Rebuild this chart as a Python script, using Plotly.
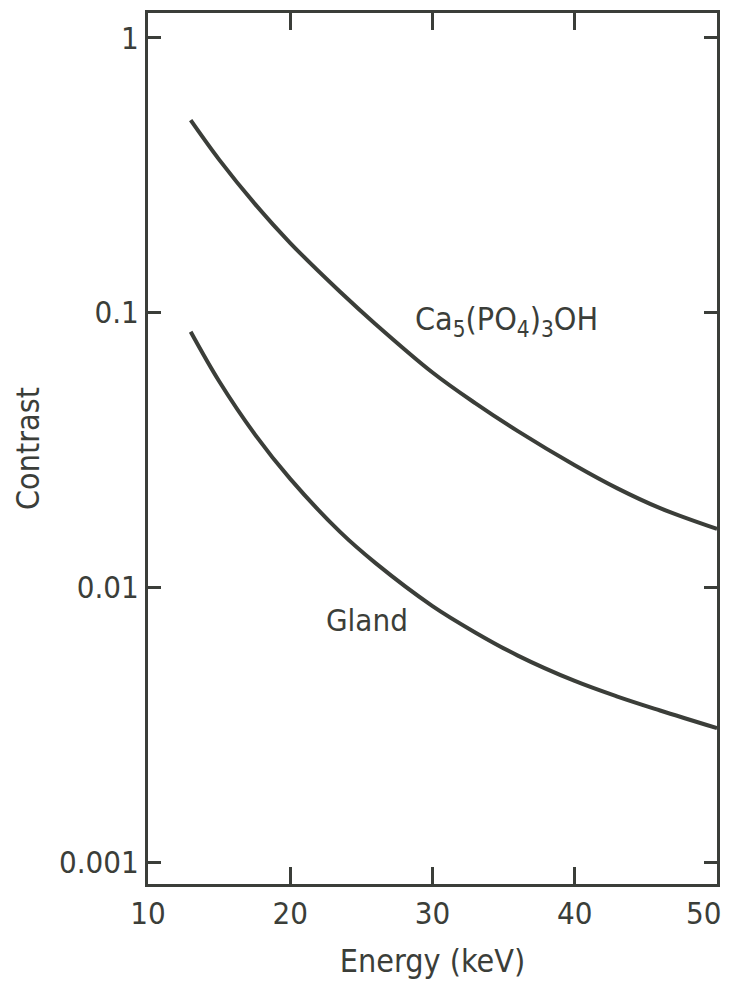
import plotly.graph_objects as go

energy = [13, 15, 17.5, 20, 23.5, 26, 30, 33, 36, 40, 43, 46, 50]
contrast_ca = [0.501, 0.360, 0.249, 0.179, 0.119, 0.0907, 0.0605, 0.0468, 0.0370, 0.0278, 0.0229, 0.0194, 0.0163]
contrast_gland = [0.0851, 0.0562, 0.0361, 0.0248, 0.0159, 0.01224, 0.00854, 0.00685, 0.00564, 0.00456, 0.00400, 0.00356, 0.00307]

x_ticks = [10, 20, 30, 40, 50]
x_ticktext = ["10", "20", "30", "40", ""]
x_last_label = "50"
y_ticks = [0.001, 0.01, 0.1, 1]
y_ticktext = ["0.001", "0.01", "0.1", "1"]

ink = "#3b3e39"
font_family = "DejaVu Sans Condensed, Liberation Sans Narrow, DejaVu Sans, sans-serif"

fig = go.Figure()
fig.add_trace(go.Scatter(x=energy, y=contrast_ca, mode="lines", line=dict(color=ink, width=4, shape="spline"),
                         name="Ca5(PO4)3OH", showlegend=False))
fig.add_trace(go.Scatter(x=energy, y=contrast_gland, mode="lines", line=dict(color=ink, width=4, shape="spline"),
                         name="Gland", showlegend=False))

fig.add_annotation(x=35.2, y=-1.03, yref="y", xref="x", text="Ca<sub>5</sub>(PO<sub>4</sub>)<sub>3</sub>OH",
                   showarrow=False, font=dict(size=32, color=ink, family=font_family))
fig.add_annotation(x=25.4, y=-2.12, yref="y", xref="x", text="Gland",
                   showarrow=False, font=dict(size=31, color=ink, family=font_family))
# last x tick label, right-aligned to stay inside the page (as in the reference)
fig.add_annotation(x=x_ticks[-1], y=0, xref="x", yref="paper", text=x_last_label, showarrow=False,
                   xanchor="right", yanchor="top", xshift=6, yshift=-9,
                   font=dict(size=31, color=ink, family=font_family))

fig.update_xaxes(range=[10, 50], tickvals=x_ticks, ticktext=x_ticktext, ticks="inside", ticklen=17, tickwidth=2.5,
                 tickcolor=ink, showline=True, linewidth=3, linecolor=ink, mirror="ticks", showgrid=False,
                 zeroline=False, ticklabeloverflow="allow", automargin=False,
                 tickfont=dict(size=31, color=ink, family=font_family),
                 title=dict(text="Energy (keV)", font=dict(size=32, color=ink, family=font_family), standoff=20))
fig.update_yaxes(type="log", range=[-3.08, 0.09], tickvals=y_ticks, ticktext=y_ticktext, ticks="inside",
                 ticklen=13, tickwidth=2.5, tickcolor=ink, showline=True, linewidth=3, linecolor=ink,
                 mirror="ticks", showgrid=False, zeroline=False, automargin=False,
                 tickfont=dict(size=31, color=ink, family=font_family),
                 title=dict(text="Contrast", font=dict(size=32, color=ink, family=font_family), standoff=10))

fig.update_layout(width=729, height=987, margin=dict(l=148, r=12, t=13, b=103),
                  plot_bgcolor="white", paper_bgcolor="white")

fig.write_html("out.html")
